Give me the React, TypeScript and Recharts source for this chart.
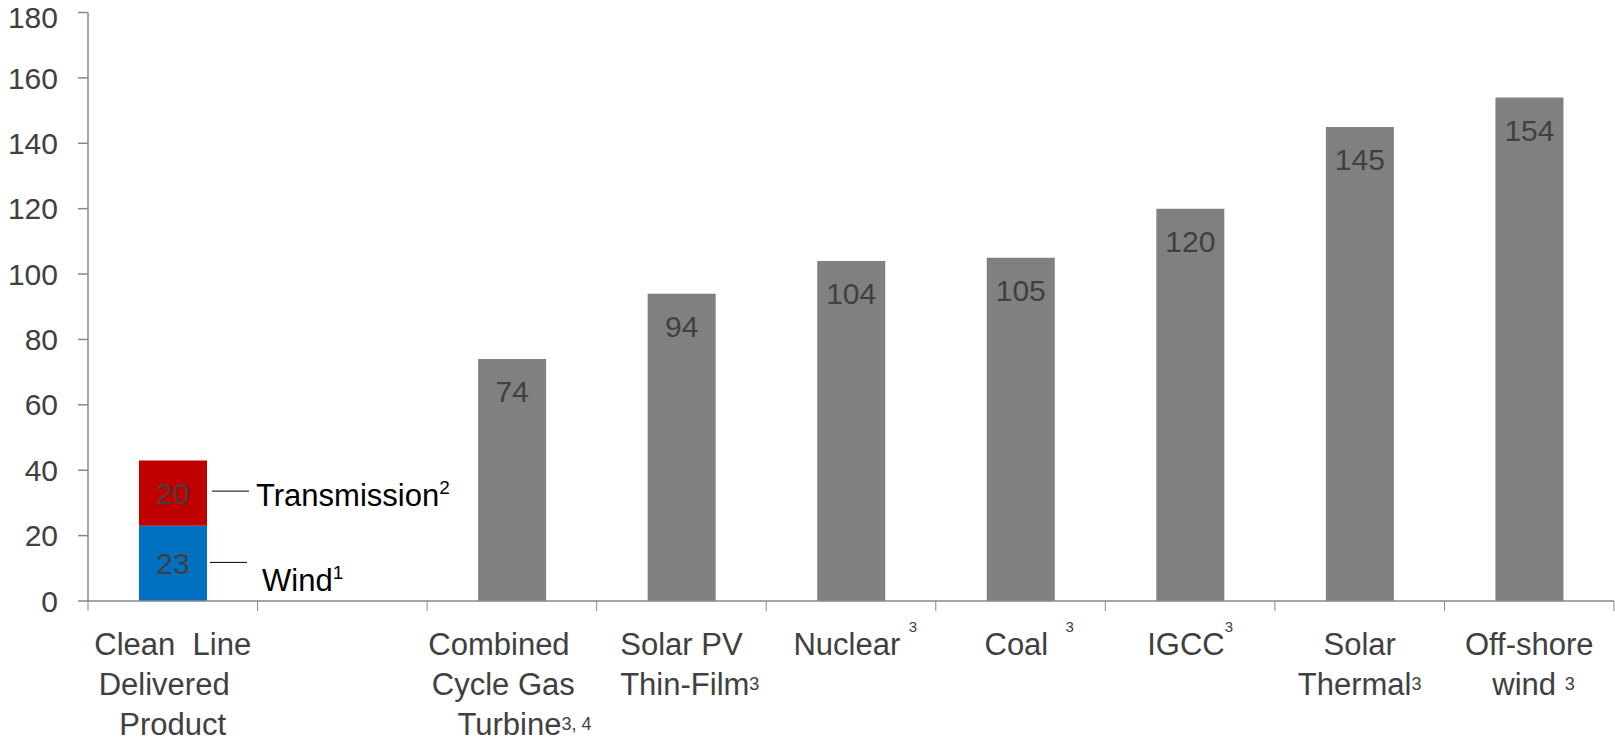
import React from 'react';
import { BarChart, Bar, XAxis, YAxis, LabelList } from 'recharts';

// labels: "\n" splits lines, {x} = small superscript, [x] = raised superscript
const categories = [
  'Clean  Line\nDelivered  \nProduct',
  '',
  'Combined   \nCycle Gas  \n   Turbine{3, 4}',
  'Solar PV\n  Thin-Film{3}',
  ' Nuclear [3]',
  '  Coal  [3]',
  'IGCC[3]',
  'Solar\nThermal{3}',
  'Off-shore\n wind {3}',
];
const wind = [23, null, null, null, null, null, null, null, null];
const transmission = [20, null, null, null, null, null, null, null, null];
const generation = [null, null, 74, 94, 104, 105, 120, 145, 154];
const yTicks = [0, 20, 40, 60, 80, 100, 120, 140, 160, 180];

const W = 1615;
const H = 742;
const MARGIN = { top: 12.5, right: 1, left: 0, bottom: 0 };
const Y_AXIS_W = 88;
const PLOT_W = W - MARGIN.left - MARGIN.right - Y_AXIS_W;

const FONT = '"Liberation Sans", Arial, sans-serif';
const AXIS = '#888888';
const TEXT = '#404040';

const data = categories.map((name, i) => ({
  name,
  wind: wind[i],
  transmission: transmission[i],
  generation: generation[i],
}));

function segments(line: string) {
  const parts = line.split(/(\{[^}]*\}|\[[^\]]*\])/).filter((p) => p !== '');
  return parts.map((p, i) => {
    if (p.startsWith('{')) {
      return (
        <tspan key={i} fontSize={18} dy={-5}>
          {p.slice(1, -1)}
        </tspan>
      );
    }
    if (p.startsWith('[')) {
      return (
        <tspan key={i} fontSize={15} dy={-23}>
          {p.slice(1, -1)}
        </tspan>
      );
    }
    return <tspan key={i}>{p}</tspan>;
  });
}

const CategoryTick = (props: any) => {
  const { x, y, payload, index } = props;
  const bw = PLOT_W / categories.length;
  const lines = String(payload.value).split('\n');
  return (
    <g>
      <line x1={x - bw / 2} y1={y} x2={x - bw / 2} y2={y + 10} stroke={AXIS} />
      {index === categories.length - 1 && (
        <line x1={x + bw / 2} y1={y} x2={x + bw / 2} y2={y + 10} stroke={AXIS} />
      )}
      {lines.map((line, i) => (
        <text
          key={i}
          x={x}
          y={y + 54 + i * 40}
          textAnchor="middle"
          fontSize={31}
          fontFamily={FONT}
          fill={TEXT}
          style={{ whiteSpace: 'pre' }}
        >
          {segments(line)}
        </text>
      ))}
    </g>
  );
};

// leader line + name beside the Clean Line segments
const makeCallout = (label: string, sup: string, lineDy: number, textDx: number, textDy: number, lineDx: number) =>
  (props: any) => {
    const { x, y, width, height, index } = props;
    if (index !== 0) return null;
    const cy = y + height / 2;
    const right = x + width;
    return (
      <g>
        <line x1={right + lineDx} y1={cy + lineDy} x2={right + lineDx + 37} y2={cy + lineDy} stroke="#000" strokeWidth={1} />
        <text x={right + textDx} y={cy + textDy} fontSize={31} fontFamily={FONT} fill="#000">
          {label}
          <tspan fontSize={19} dy={-12}>
            {sup}
          </tspan>
        </text>
      </g>
    );
  };

const WindCallout = makeCallout('Wind', '1', -1, 55, 28, 3);
const TransmissionCallout = makeCallout('Transmission', '2', -2, 49, 13, 5);

export default function App() {
  return (
    <div style={{ position: 'absolute', left: 0, top: 0, width: W, height: H, background: '#fff' }}>
      <BarChart width={W} height={H} data={data} margin={MARGIN} barSize={68}>
        <XAxis
          dataKey="name"
          type="category"
          interval={0}
          tickLine={false}
          tickSize={0}
          tickMargin={0}
          height={141}
          axisLine={{ stroke: AXIS, strokeWidth: 1.5 }}
          tick={<CategoryTick />}
        />
        <YAxis
          domain={[0, 180]}
          ticks={yTicks}
          width={Y_AXIS_W}
          tickSize={10}
          tickMargin={20}
          axisLine={{ stroke: AXIS, strokeWidth: 1.5 }}
          tickLine={{ stroke: AXIS, strokeWidth: 1.5 }}
          tick={{ fontSize: 30, fill: TEXT, fontFamily: FONT }}
        />
        <Bar dataKey="wind" stackId="a" fill="#0070C0" isAnimationActive={false}>
          <LabelList dataKey="wind" position="center" fill={TEXT} fontSize={30} fontFamily={FONT} />
          <LabelList dataKey="wind" content={<WindCallout />} />
        </Bar>
        <Bar dataKey="transmission" stackId="a" fill="#C00000" isAnimationActive={false}>
          <LabelList dataKey="transmission" position="center" fill={TEXT} fontSize={30} fontFamily={FONT} />
          <LabelList dataKey="transmission" content={<TransmissionCallout />} />
        </Bar>
        <Bar dataKey="generation" stackId="a" fill="#808080" isAnimationActive={false}>
          <LabelList dataKey="generation" position="insideTop" offset={22} fill={TEXT} fontSize={30} fontFamily={FONT} />
        </Bar>
      </BarChart>
    </div>
  );
}
